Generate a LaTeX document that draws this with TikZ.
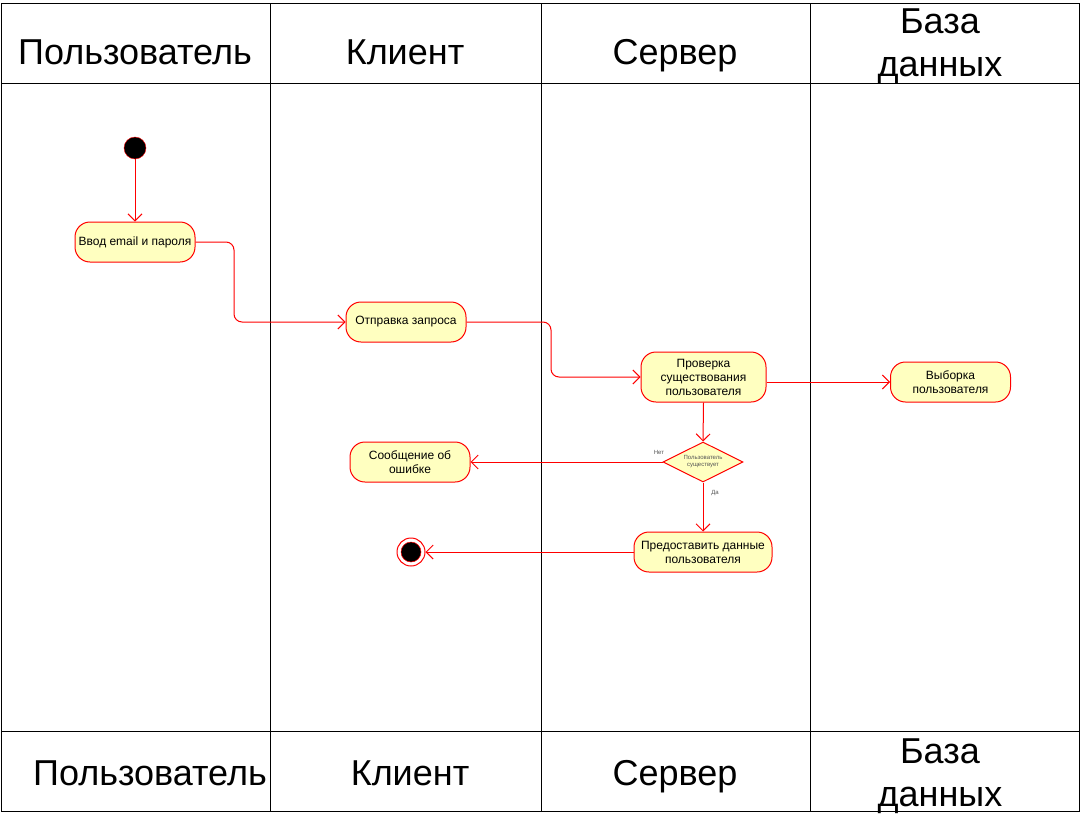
\documentclass[tikz,border=0pt]{standalone}
\usepackage{fontspec}
\setmainfont{Liberation Sans}
\usetikzlibrary{arrows.meta,shapes.geometric}
\definecolor{lred}{HTML}{FF0000}
\definecolor{lyel}{HTML}{FFFFC0}
\definecolor{lgray}{HTML}{555555}
\begin{document}
\begin{tikzpicture}[x=1pt,y=-1pt,
 act/.style={draw=lred, fill=lyel, rounded corners=15pt, minimum width=120pt, minimum height=40pt, align=center, font=\fontsize{12}{14}\selectfont, line width=1pt, inner sep=2pt},
 flow/.style={draw=lred, line width=1pt, -{Straight Barb[length=7pt,width=14pt,line width=1pt]}},
 hdr/.style={font=\fontsize{36}{43}\selectfont, align=center, inner sep=0pt},
 lane/.style={draw=black, line width=1pt},
 small/.style={font=\fontsize{6}{7}\selectfont, text=lgray, inner sep=0pt}]
\useasboundingbox (0,0) rectangle (1081,816);
% swimlanes
\draw[lane] (1.5,3.5) rectangle (1079.5,811);
\draw[lane] (1.5,83) -- (1079.5,83);
\draw[lane] (1.5,731) -- (1079.5,731);
\draw[lane] (270.5,3.5) -- (270.5,811);
\draw[lane] (541,3.5) -- (541,811);
\draw[lane] (810,3.5) -- (810,811);
% headers top
\node[hdr, anchor=base] (h1) at (135,64) {Пользователь};
\node[hdr, anchor=base] (h2) at (405,64) {Клиент};
\node[hdr, anchor=base] (h3) at (675,64) {Сервер};
\node[hdr] (h4) at (940,46) {База\\данных};
% headers bottom
\node[hdr, anchor=base] (f1) at (150,785) {Пользователь};
\node[hdr, anchor=base] (f2) at (410,785) {Клиент};
\node[hdr, anchor=base] (f3) at (675,785) {Сервер};
\node[hdr] (f4) at (940,776) {База\\данных};
% nodes
\node[circle, fill=black, draw=lred, minimum size=22pt, inner sep=0pt] (start) at (135,148) {};
\node[act] (input) at (135,242) {Ввод email и пароля};
\node[act] (send) at (406,322) {Отправка запроса};
\node[act, minimum width=125pt, minimum height=50pt] (check) at (703.5,377) {Проверка\\существования\\пользователя};
\node[act] (sel) at (950.5,382) {Выборка\\пользователя};
\node[diamond, draw=lred, fill=lyel, line width=1pt, minimum width=80pt, minimum height=40pt, aspect=2, inner sep=0pt, align=center, font=\fontsize{6}{7}\selectfont, text=lgray] (dec) at (703,462) {Пользователь\\существует};
\node[act] (err) at (410,462) {Сообщение об\\ошибке};
\node[act, minimum width=138pt] (give) at (703,552) {Предоставить данные\\пользователя};
\node[circle, draw=lred, fill=white, line width=1pt, minimum size=28pt, inner sep=0pt] (end) at (411,552) {};
\node[circle, fill=black, draw=lred, line width=0.5pt, minimum size=20pt, inner sep=0pt] (endin) at (end.center) {};
% labels
\node[small] (no) at (659,452) {Нет};
\node[small] (yes) at (715,493) {Да};
% connectors
\draw[flow] (start) -- (input);
\draw[flow, rounded corners=8pt] (input.east) -- (234,242) |- (send.west);
\draw[flow, rounded corners=8pt] (send.east) -- (551,322) |- (check.west);
\draw[flow] ([yshift=-5pt]check.east) -- (sel.west);
\draw[flow] (check.south) -- (dec.north);
\draw[flow] (dec.west) -- (err.east);
\draw[flow] (dec.south) -- (give.north);
\draw[flow] (give.west) -- (end.east);
\end{tikzpicture}
\end{document}
